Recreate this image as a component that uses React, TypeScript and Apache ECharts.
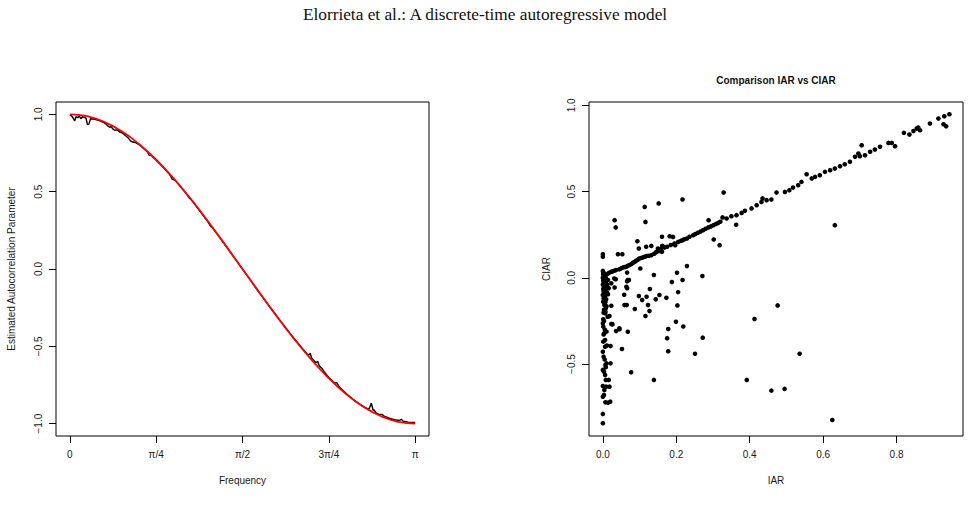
import React, { useEffect, useRef } from "react";
import * as echarts from "echarts";

// Left panel: frequency in units of pi
const freqTheory: number[] = [
  0, 0.025, 0.05, 0.075, 0.1, 0.125, 0.15, 0.175, 0.2, 0.225, 0.25, 0.275, 0.3, 0.325, 0.35,
  0.375, 0.4, 0.425, 0.45, 0.475, 0.5, 0.525, 0.55, 0.575, 0.6, 0.625, 0.65, 0.675, 0.7, 0.725,
  0.75, 0.775, 0.8, 0.825, 0.85, 0.875, 0.9, 0.925, 0.95, 0.975, 1,
];
const acfTheory: number[] = [
  1.0, 0.997, 0.988, 0.972, 0.951, 0.924, 0.891, 0.853, 0.809, 0.76, 0.707, 0.649, 0.588, 0.522,
  0.454, 0.383, 0.309, 0.233, 0.156, 0.078, 0.0, -0.078, -0.156, -0.233, -0.309, -0.383, -0.454,
  -0.522, -0.588, -0.649, -0.707, -0.76, -0.809, -0.853, -0.891, -0.924, -0.951, -0.972, -0.988,
  -0.997, -1.0,
];

const freqEstimated: number[] = [
  0.0, 0.005, 0.01, 0.014, 0.018, 0.023, 0.027, 0.032, 0.037, 0.042, 0.047, 0.051, 0.055, 0.06,
  0.068, 0.075, 0.085, 0.094, 0.1, 0.106, 0.11, 0.115, 0.12, 0.125, 0.13, 0.135, 0.14, 0.144,
  0.15, 0.16, 0.17, 0.176, 0.182, 0.19, 0.2, 0.212, 0.225, 0.23, 0.235, 0.245, 0.2625, 0.275,
  0.2875, 0.292, 0.297, 0.305, 0.315, 0.325, 0.3375, 0.346, 0.35, 0.3625, 0.375, 0.3875, 0.4,
  0.408, 0.4125, 0.425, 0.4375, 0.45, 0.4625, 0.475, 0.4875, 0.5, 0.5125, 0.525, 0.5375, 0.55,
  0.5625, 0.575, 0.5875, 0.6, 0.6125, 0.625, 0.6375, 0.65, 0.6625, 0.675, 0.687, 0.692, 0.696,
  0.7, 0.712, 0.718, 0.722, 0.729, 0.737, 0.75, 0.762, 0.768, 0.773, 0.78, 0.8, 0.82, 0.84,
  0.855, 0.866, 0.873, 0.878, 0.881, 0.887, 0.895, 0.904, 0.91, 0.925, 0.94, 0.955, 0.96,
  0.965, 0.98, 1.0,
];
const acfEstimated: number[] = [
  0.995, 0.99, 0.975, 0.957, 0.985, 0.978, 0.99, 0.972, 0.985, 0.98, 0.975, 0.934, 0.935, 0.972,
  0.97, 0.966, 0.96, 0.951, 0.945, 0.935, 0.925, 0.918, 0.92, 0.905, 0.897, 0.9, 0.895, 0.886,
  0.882, 0.865, 0.845, 0.828, 0.821, 0.818, 0.805, 0.782, 0.757, 0.735, 0.735, 0.715, 0.676,
  0.646, 0.615, 0.6, 0.58, 0.573, 0.548, 0.52, 0.486, 0.458, 0.452, 0.417, 0.38, 0.343, 0.305,
  0.275, 0.268, 0.231, 0.194, 0.155, 0.116, 0.077, 0.038, -0.001, -0.04, -0.079, -0.118, -0.158,
  -0.195, -0.234, -0.27, -0.307, -0.344, -0.38, -0.416, -0.451, -0.485, -0.518, -0.55, -0.556,
  -0.545, -0.575, -0.605, -0.598, -0.625, -0.64, -0.665, -0.702, -0.728, -0.738, -0.735, -0.762,
  -0.805, -0.843, -0.875, -0.897, -0.907, -0.868, -0.912, -0.912, -0.93, -0.94, -0.94, -0.952,
  -0.965, -0.975, -0.98, -0.972, -0.985, -0.99, -0.993,
];

const freqTickValues: number[] = [0, 0.25, 0.5, 0.75, 1];
const freqTickLabels: string[] = ["0", "π/4", "π/2", "3π/4", "π"];
const acfTickValues: number[] = [-1, -0.5, 0, 0.5, 1];

// Right panel: IAR vs CIAR estimates
const iarValues: number[] = [
  // along the diagonal
  0.005, 0.01, 0.014, 0.018, 0.023, 0.027, 0.031, 0.036, 0.045, 0.05, 0.055, 0.06, 0.064, 0.068,
  0.073, 0.078, 0.082, 0.086, 0.09, 0.095, 0.099, 0.104, 0.109, 0.114, 0.119, 0.125, 0.132, 0.14,
  0.145, 0.15, 0.155, 0.158, 0.162, 0.168, 0.175, 0.185, 0.195, 0.197, 0.205, 0.212, 0.217, 0.222,
  0.229, 0.236, 0.246, 0.252, 0.259, 0.266, 0.273, 0.28, 0.287, 0.294, 0.301, 0.308, 0.314, 0.32,
  0.326, 0.337, 0.35, 0.364, 0.378, 0.387, 0.405, 0.419,
  0.432, 0.435, 0.446, 0.459, 0.473, 0.496, 0.508, 0.518, 0.532, 0.541,
  0.555, 0.569, 0.578, 0.591, 0.605, 0.619, 0.632, 0.646, 0.659, 0.673, 0.687, 0.696, 0.7, 0.705,
  0.714, 0.728, 0.741, 0.755, 0.778, 0.787, 0.796, 0.82, 0.835, 0.846, 0.855, 0.859, 0.864, 0.891,
  0.914, 0.928, 0.935, 0.93, 0.944,
  // above the diagonal
  0.217, 0.152, 0.114, 0.116, 0.032, 0.035, 0.329, 0.288, 0.182, 0.191, 0.161, 0.094, 0.041,
  0.053, 0.0, 0.0, 0.132, 0.162, 0.098, 0.118, 0.147, 0.161,
  // below the diagonal
  0.363, 0.302, 0.318, 0.632, 0.271, 0.229, 0.202, 0.217, 0.188, 0.102, 0.139, 0.128, 0.098,
  0.119, 0.154, 0.173, 0.205, 0.068, 0.064, 0.066, 0.066, 0.035, 0.032, 0.023, 0.014, 0.008,
  0.058, 0.071, 0.066, 0.031, 0.107, 0.144, 0.203, 0.123, 0.127, 0.116, 0.087, 0.059, 0.065,
  0.023, 0.018, 0.026, 0.036, 0.045, 0.068, 0.021, 0.052, 0.178, 0.175, 0.178, 0.199, 0.219,
  0.272, 0.251, 0.413, 0.476, 0.536, 0.392, 0.459, 0.495, 0.625, 0.139, 0.077, 0.021, 0.016,
  0.018, 0.02, 0.014, 0.007, 0.025, 0.045, 0.023,
  // column near zero IAR
  0.0, 0.002, 0.001, 0.003, 0.0, 0.004, 0.001, 0.006, 0.002, 0.0, 0.005, 0.003, 0.001, 0.007,
  0.002, 0.004, 0.0, 0.006, 0.002, 0.009, 0.001, 0.004, 0.008, 0.002, 0.006, 0.013, 0.003, 0.0,
  0.001, 0.004, 0.002, 0.01, 0.001, 0.006, 0.011, 0.006, 0.0, 0.002, 0.005, 0.01, 0.007, 0.008,
  0.0, 0.003, 0.006, 0.008, 0.0, 0.009, 0.004, 0.003, 0.0, 0.007, 0.0, 0.0, 0.008, 0.01, 0.012,
  0.009, 0.011, 0.014, 0.016, 0.007, 0.01, 0.003, 0.001, 0.005,
];
const ciarValues: number[] = [
  // along the diagonal
  0.016, 0.02, 0.025, 0.03, 0.035, 0.038, 0.041, 0.045, 0.049, 0.055, 0.06, 0.062, 0.064, 0.07,
  0.074, 0.08, 0.087, 0.092, 0.098, 0.105, 0.112, 0.115, 0.118, 0.122, 0.126, 0.128, 0.131, 0.14,
  0.148, 0.17, 0.156, 0.165, 0.184, 0.175, 0.18, 0.19, 0.199, 0.189, 0.208, 0.214, 0.218, 0.223,
  0.228, 0.238, 0.247, 0.254, 0.261, 0.268, 0.276, 0.284, 0.292, 0.298, 0.305, 0.312, 0.318,
  0.325, 0.35, 0.344, 0.357, 0.363, 0.376, 0.388, 0.402, 0.421,
  0.44, 0.46, 0.45, 0.454, 0.494, 0.498, 0.508, 0.523, 0.537, 0.556,
  0.6, 0.576, 0.585, 0.595, 0.614, 0.624, 0.633, 0.647, 0.658, 0.672, 0.701, 0.72, 0.705, 0.768,
  0.71, 0.73, 0.743, 0.759, 0.782, 0.782, 0.763, 0.84, 0.83, 0.851, 0.865, 0.871, 0.855, 0.894,
  0.923, 0.89, 0.878, 0.936, 0.948,
  // above the diagonal
  0.454, 0.431, 0.411, 0.324, 0.334, 0.292, 0.494, 0.334, 0.241, 0.237, 0.238, 0.212, 0.137,
  0.137, 0.137, 0.122, 0.185, 0.184, 0.17, 0.18, 0.151, 0.151,
  // below the diagonal
  0.307, 0.222, 0.189, 0.305, 0.01, 0.068, 0.029, -0.013, -0.025, 0.054, 0.016, -0.065, -0.106,
  -0.11, -0.1, -0.116, -0.083, -0.013, -0.052, 0.03, -0.02, -0.009, -0.056, -0.032, -0.013,
  -0.032, -0.098, -0.013, -0.061, -0.004, -0.129, -0.125, -0.16, -0.158, -0.193, -0.222, -0.181,
  -0.158, -0.158, -0.162, -0.222, -0.27, -0.309, -0.299, -0.313, -0.396, -0.413, -0.297, -0.351,
  -0.426, -0.255, -0.282, -0.347, -0.44, -0.239, -0.16, -0.44, -0.592, -0.654, -0.644, -0.824,
  -0.592, -0.548, -0.496, -0.592, -0.631, -0.718, -0.724, -0.197, -0.268, -0.293, -0.268,
  // column near zero IAR
  0.04, 0.03, 0.02, 0.01, 0.0, -0.005, -0.015, -0.02, -0.03, -0.04, -0.045, -0.055, -0.065, -0.07,
  -0.08, -0.09, -0.1, -0.105, -0.12, -0.125, -0.139, -0.158, -0.177, -0.202, -0.206, -0.226,
  -0.251, -0.264, -0.283, -0.322, -0.328, -0.312, -0.37, -0.361, -0.393, -0.399, -0.428, -0.457,
  -0.473, -0.496, -0.505, -0.519, -0.534, -0.544, -0.563, -0.592, -0.627, -0.631, -0.65, -0.679,
  -0.689, -0.722, -0.789, -0.843, 0.0, -0.01, -0.04, -0.06, -0.085, -0.095, -0.06, -0.14, -0.165,
  -0.185, -0.24, -0.3,
];

const iarTickValues: number[] = [0, 0.2, 0.4, 0.6, 0.8];
const ciarTickValues: number[] = [-0.5, 0, 0.5, 1];

const SANS = "'Liberation Sans', Arial, Helvetica, sans-serif";
const INK = "#000";

const minusSign = (v: number, digits: number) => v.toFixed(digits).replace("-", "\u2212");

function axisBase(
  ticks: number[],
  fmt: (v: number) => string,
  gridIndex: number,
  rotate = 0,
) {
  return {
    gridIndex,
    type: "value" as const,
    axisLine: { show: false, onZero: false },
    splitLine: { show: false },
    axisTick: {
      show: true,
      inside: false,
      length: 7,
      customValues: ticks,
      lineStyle: { color: INK, width: 1 },
    },
    axisLabel: {
      show: true,
      customValues: ticks,
      formatter: fmt,
      rotate,
      color: "#1a1a1a",
      fontFamily: SANS,
      fontSize: 10,
      margin: 13,
    },
    nameLocation: "middle" as const,
    nameTextStyle: { color: "#1a1a1a", fontFamily: SANS, fontSize: 10 },
  };
}

export default function App() {
  const ref = useRef<HTMLDivElement>(null);

  useEffect(() => {
    if (!ref.current) return;
    const chart = echarts.init(ref.current, null, { renderer: "svg" });

    const theoryData = freqTheory.map((f, i) => [f, acfTheory[i]]);
    const estimatedData = freqEstimated.map((f, i) => [f, acfEstimated[i]]);
    const scatterData = iarValues.map((x, i) => [x, ciarValues[i]]);

    chart.setOption({
      animation: false,
      backgroundColor: "#fff",
      grid: [
        { left: 56, top: 102, width: 373, height: 334, show: true, borderColor: INK, borderWidth: 1, backgroundColor: "transparent" },
        { left: 589, top: 102, width: 374, height: 334, show: true, borderColor: INK, borderWidth: 1, backgroundColor: "transparent" },
      ],
      xAxis: [
        {
          ...axisBase(freqTickValues, (v: number) => {
            const i = freqTickValues.findIndex((t) => Math.abs(t - v) < 1e-9);
            return i >= 0 ? freqTickLabels[i] : "";
          }, 0),
          min: -0.04,
          max: 1.04,
          name: "Frequency",
          nameGap: 39,
        },
        {
          ...axisBase(iarTickValues, (v: number) => minusSign(v, 1), 1),
          min: -0.0378,
          max: 0.981,
          name: "IAR",
          nameGap: 39,
        },
      ],
      yAxis: [
        {
          ...axisBase(acfTickValues, (v: number) => minusSign(v, 1), 0, 90),
          min: -1.08,
          max: 1.08,
          name: "Estimated Autocorrelation Parameter",
          nameGap: 40,
        },
        {
          ...axisBase(ciarTickValues, (v: number) => minusSign(v, 1), 1, 90),
          min: -0.917,
          max: 1.019,
          name: "CIAR",
          nameGap: 38,
        },
      ],
      series: [
        {
          type: "line",
          xAxisIndex: 0,
          yAxisIndex: 0,
          data: estimatedData,
          showSymbol: false,
          lineStyle: { color: "#000", width: 1.4 },
          z: 2,
        },
        {
          type: "line",
          xAxisIndex: 0,
          yAxisIndex: 0,
          data: theoryData,
          showSymbol: false,
          lineStyle: { color: "#ff0000", width: 1.8 },
          z: 3,
        },
        {
          type: "scatter",
          xAxisIndex: 1,
          yAxisIndex: 1,
          data: scatterData,
          symbol: "circle",
          symbolSize: 4.6,
          itemStyle: { color: "#000", opacity: 1 },
        },
      ],
      graphic: [
        {
          type: "text",
          x: 485,
          y: 14,
          style: {
            text: "Elorrieta et al.: A discrete-time autoregressive model",
            fontFamily: "'Liberation Serif', 'Times New Roman', serif",
            fontSize: 17.3,
            fill: "#111",
            textAlign: "center",
            textVerticalAlign: "middle",
          },
        },
        {
          type: "text",
          x: 776,
          y: 80,
          style: {
            text: "Comparison IAR vs CIAR",
            fontFamily: SANS,
            fontSize: 10,
            fontWeight: "bold",
            fill: "#111",
            textAlign: "center",
            textVerticalAlign: "middle",
          },
        },
      ],
    });

    return () => chart.dispose();
  }, []);

  return (
    <div
      ref={ref}
      style={{ position: "fixed", left: 0, top: 0, width: 970, height: 519, background: "#fff" }}
    />
  );
}
